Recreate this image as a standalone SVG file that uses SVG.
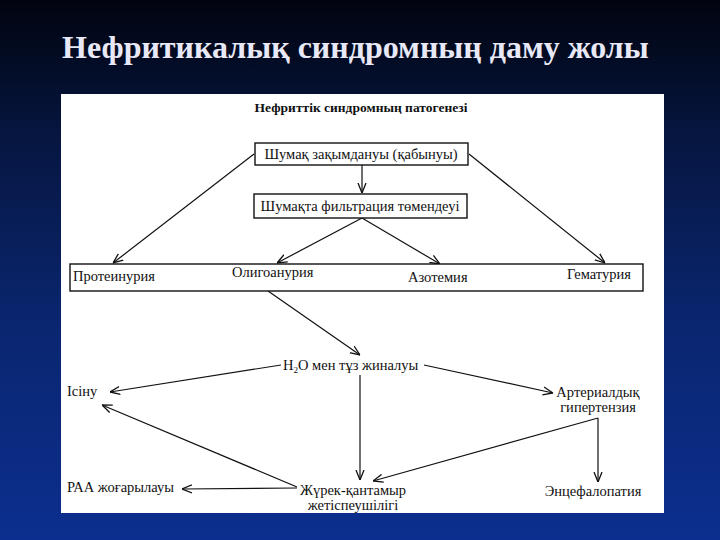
<svg xmlns="http://www.w3.org/2000/svg" width="720" height="540" viewBox="0 0 720 540">
<defs>
<linearGradient id="bg" x1="0" y1="0" x2="0" y2="1">
<stop offset="0" stop-color="#01040f"/>
<stop offset="0.25" stop-color="#061640"/>
<stop offset="0.6" stop-color="#0a2670"/>
<stop offset="1" stop-color="#0c2e8e"/>
</linearGradient>
<marker id="ah" viewBox="0 0 10 10" refX="10" refY="5" markerWidth="10" markerHeight="10" markerUnits="userSpaceOnUse" orient="auto">
<path d="M0,1 L10,5 L0,9" fill="none" stroke="#111" stroke-width="1.3"/>
</marker>
<style>
.s{font-family:"Liberation Serif","DejaVu Serif","Times New Roman",serif}
.t{font-size:14.5px;fill:#111}
.box{fill:#fff;stroke:#111;stroke-width:1.4}
.c line{stroke:#111;stroke-width:1.2;fill:none}
.a{marker-end:url(#ah)}
</style>
</defs>
<rect width="720" height="540" fill="url(#bg)"/>
<text class="s" x="62" y="58" font-size="32" font-weight="bold" fill="#e8e8f6">Нефритикалық синдромның даму жолы</text>
<rect x="61" y="94" width="603" height="419" fill="#fff"/>
<text class="s" x="361" y="112" text-anchor="middle" font-size="13.5" font-weight="bold" fill="#111">Нефриттік синдромның патогенезі</text>

<g class="c">
<line class="a" x1="362" y1="165" x2="362" y2="193"/>
<line class="a" x1="254" y1="154" x2="113" y2="263"/>
<line class="a" x1="469" y1="154" x2="605" y2="263"/>
<line class="a" x1="362" y1="218" x2="277" y2="263"/>
<line class="a" x1="362" y1="218" x2="440" y2="264"/>
<line class="a" x1="268" y1="291" x2="360" y2="355"/>
<line class="a" x1="281" y1="365" x2="110" y2="392"/>
<line class="a" x1="424" y1="365" x2="553" y2="393"/>
<line class="a" x1="360" y1="375" x2="360" y2="480"/>
<line class="a" x1="598" y1="418" x2="373" y2="481"/>
<line class="a" x1="598" y1="418" x2="598" y2="482"/>
<line class="a" x1="297" y1="488" x2="182" y2="489"/>
<line class="a" x1="297" y1="487" x2="102" y2="405"/>
</g>

<g id="n-shumak">
<rect class="box" x="255" y="143" width="213" height="22"/>
<text class="s t" x="361" y="159" text-anchor="middle">Шумақ зақымдануы (қабынуы)</text>
</g>
<g id="n-filtr">
<rect class="box" x="254" y="194" width="213" height="24"/>
<text class="s t" x="360" y="211" text-anchor="middle">Шумақта фильтрация төмендеуі</text>
</g>
<g id="n-bar">
<rect class="box" x="70" y="264" width="573" height="27"/>
<text class="s t" x="73" y="281">Протеинурия</text>
<text class="s t" x="232" y="277">Олигоанурия</text>
<text class="s t" x="408" y="282">Азотемия</text>
<text class="s t" x="567" y="279">Гематурия</text>
</g>
<g id="n-h2o">
<text class="s t" x="283" y="370">H<tspan font-size="9" dy="3">2</tspan><tspan dy="-3">O мен тұз жиналуы</tspan></text>
</g>
<g id="n-isinu">
<text class="s t" x="67" y="396">Ісіну</text>
</g>
<g id="n-arter">
<text class="s t" x="598" y="397" text-anchor="middle">Артериалдық</text>
<text class="s t" x="598" y="412" text-anchor="middle">гипертензия</text>
</g>
<g id="n-encef">
<text class="s t" x="593" y="496" text-anchor="middle">Энцефалопатия</text>
</g>
<g id="n-zhurek">
<text class="s t" x="353" y="495" text-anchor="middle">Жүрек-қантамыр</text>
<text class="s t" x="353" y="510" text-anchor="middle">жетіспеушілігі</text>
</g>
<g id="n-raa">
<text class="s t" x="67" y="492">РАА жоғарылауы</text>
</g>
</svg>
